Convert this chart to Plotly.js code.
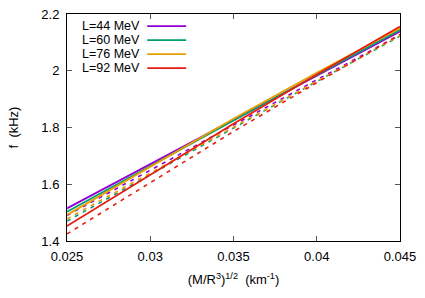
<!DOCTYPE html>
<html><head><meta charset="utf-8">
<script src="https://cdn.plot.ly/plotly-3.0.1.min.js"></script>
<style>html,body{margin:0;padding:0;background:#fff}#chart{width:425px;height:298px}</style>
</head><body><div id="chart"></div>
<script>
const xVals = [0.025, 0.03, 0.035, 0.04, 0.045];
const labels = ['L=44 MeV', 'L=60 MeV', 'L=76 MeV', 'L=92 MeV'];
const colors = ['#9400d3', '#009e73', '#e69f00', '#e51e10'];
const solid44 = [1.515, 1.671, 1.827, 1.982, 2.138];
const solid60 = [1.503, 1.664, 1.826, 1.985, 2.144];
const solid76 = [1.492, 1.661, 1.831, 1.993, 2.150];
const solid92 = [1.453, 1.633, 1.813, 1.987, 2.156];
const dash44 = [1.490, 1.650, 1.810, 1.968, 2.126];
const dash60 = [1.470, 1.633, 1.798, 1.962, 2.122];
const dash76 = [1.478, 1.640, 1.802, 1.965, 2.124];
const dash92 = [1.425, 1.604, 1.786, 1.958, 2.128];
const xTicks = [0.025, 0.03, 0.035, 0.04, 0.045];
const xTickText = ['0.025', '0.03', '0.035', '0.04', '0.045'];
const yTicks = [1.4, 1.6, 1.8, 2.0, 2.2];
const yTickText = ['1.4', '1.6', '1.8', '2', '2.2'];

const solids = [solid44, solid60, solid76, solid92];
const dashes = [dash44, dash60, dash76, dash92];
const traces = [];
dashes.forEach((d, i) => traces.push({x: xVals, y: d, mode: 'lines', showlegend: false,
  line: {color: colors[i], width: 1.6, dash: '4px,5px'}}));
solids.forEach((s, i) => traces.push({x: xVals, y: s, mode: 'lines', showlegend: false,
  line: {color: colors[i], width: 1.8}}));

const font = {family: 'Liberation Sans, Arial, sans-serif', size: 13, color: '#000'};
const legFont = {family: 'Liberation Sans, Arial, sans-serif', size: 12.5, color: '#000'};
const annotations = [];
const shapes = [];
labels.forEach((lab, i) => {
  const yp = 26.2 + i * 14.0;
  annotations.push({xref: 'paper', yref: 'paper', x: (141 - 66.7) / 333.3, y: 1 - (yp - 14) / 227,
    xanchor: 'right', yanchor: 'middle', text: lab, showarrow: false, font: legFont, borderpad: 0});
  shapes.push({type: 'line', xref: 'paper', yref: 'paper',
    x0: (147 - 66.7) / 333.3, x1: (186 - 66.7) / 333.3,
    y0: 1 - (yp - 14) / 227, y1: 1 - (yp - 14) / 227,
    line: {color: colors[i], width: 1.8}});
});

const layout = {
  width: 425, height: 298,
  margin: {l: 66.7, r: 25, t: 14, b: 57, pad: 0},
  paper_bgcolor: '#fff', plot_bgcolor: '#fff',
  font: font,
  showlegend: false,
  xaxis: {range: [0.025, 0.045], tickvals: xTicks, ticktext: xTickText,
    ticks: 'inside', ticklen: 5, tickcolor: '#555', showline: true, linecolor: '#000', linewidth: 1,
    mirror: 'ticks', showgrid: false, zeroline: false, ticklabelstandoff: 3,
    title: {text: '(M/R<sup>3</sup>)<sup>1/2</sup>  (km<sup>-1</sup>)', font: font, standoff: 12}},
  yaxis: {range: [1.4, 2.2], tickvals: yTicks, ticktext: yTickText,
    ticks: 'inside', ticklen: 5, tickcolor: '#555', showline: true, linecolor: '#000', linewidth: 1,
    mirror: 'ticks', showgrid: false, zeroline: false, ticklabelstandoff: 4,
    title: {text: 'f  (kHz)', font: font, standoff: 19}},
  annotations: annotations,
  shapes: shapes
};
Plotly.newPlot('chart', traces, layout, {staticPlot: true, displayModeBar: false});
</script></body></html>
